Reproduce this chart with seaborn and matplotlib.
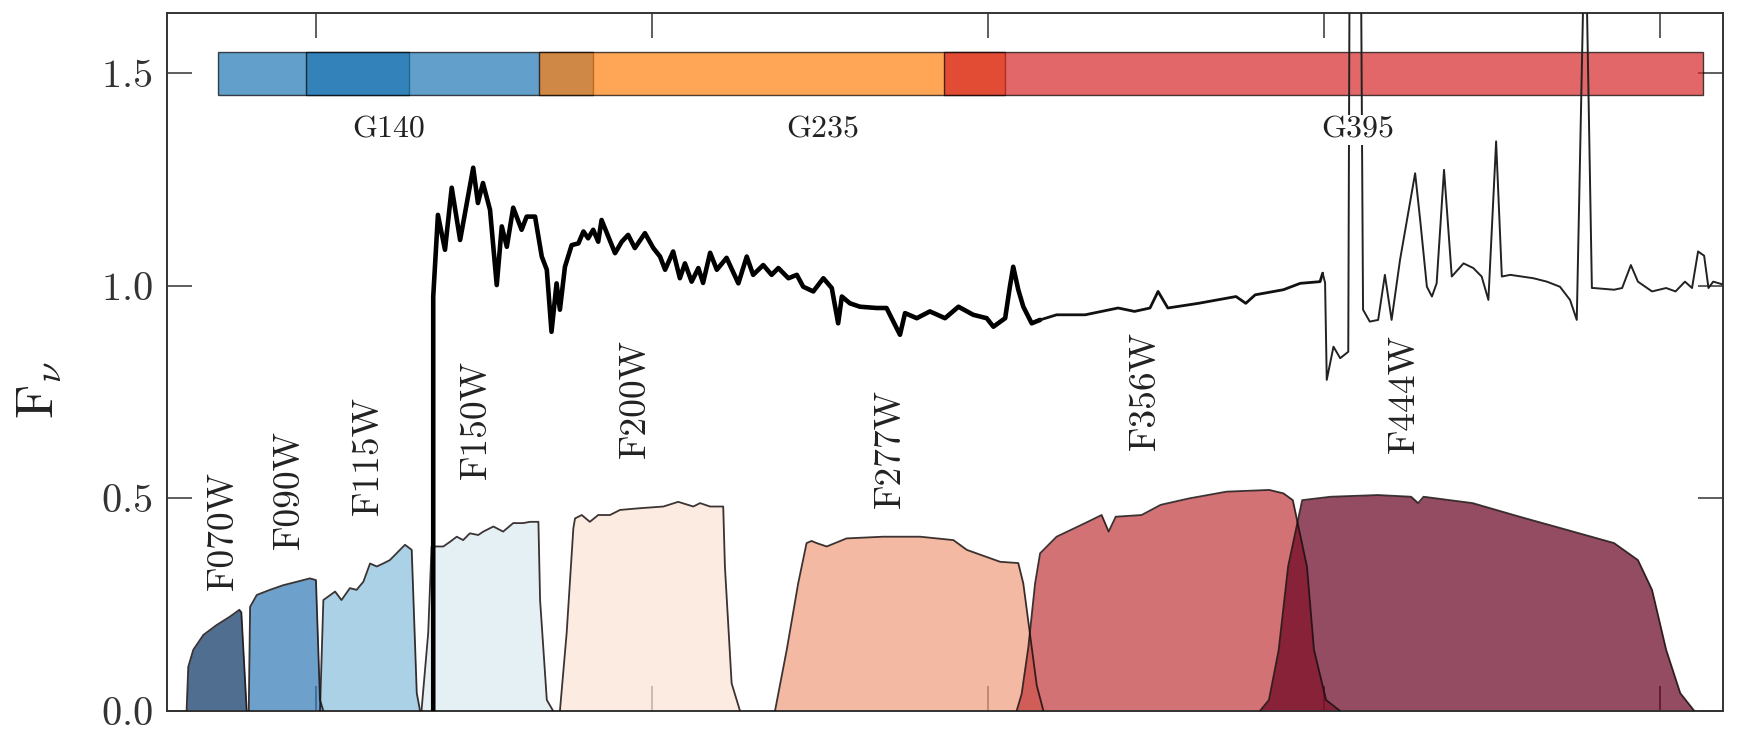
import numpy as np
import matplotlib
matplotlib.use("Agg")
import matplotlib.pyplot as plt
import seaborn as sns

# filter throughput curves (wavelength in micron)
filter_names = ["F070W", "F090W", "F115W", "F150W", "F200W", "F277W", "F356W", "F444W"]
f070w_wave = [0.615, 0.62, 0.635, 0.665, 0.704, 0.744, 0.772, 0.778, 0.794]
f070w_thru = [0.0, 0.104, 0.144, 0.179, 0.202, 0.222, 0.238, 0.232, 0.0]
f090w_wave = [0.8, 0.804, 0.824, 0.863, 0.903, 0.943, 0.982, 1.0, 1.012, 1.022]
f090w_thru = [0.0, 0.245, 0.273, 0.285, 0.296, 0.304, 0.312, 0.308, 0.026, 0.0]
f115w_wave = [1.012, 1.022, 1.057, 1.076, 1.101, 1.121, 1.141, 1.161, 1.181, 1.2,
              1.22, 1.245, 1.265, 1.285, 1.3, 1.31]
f115w_thru = [0.0, 0.261, 0.281, 0.261, 0.289, 0.285, 0.304, 0.347, 0.34, 0.347,
              0.355, 0.375, 0.391, 0.379, 0.042, 0.0]
f150w_wave = [1.314, 1.334, 1.344, 1.379, 1.399, 1.419, 1.438, 1.458, 1.483, 1.498,
              1.528, 1.557, 1.587, 1.617, 1.637, 1.662, 1.667, 1.687, 1.706]
f150w_thru = [0.0, 0.183, 0.387, 0.387, 0.398, 0.41, 0.402, 0.418, 0.414, 0.422,
              0.434, 0.422, 0.442, 0.442, 0.445, 0.445, 0.261, 0.026, 0.0]
f200w_wave = [1.726, 1.746, 1.766, 1.771, 1.791, 1.815, 1.84, 1.875, 1.905, 1.964,
              2.034, 2.078, 2.123, 2.143, 2.173, 2.212, 2.217, 2.237, 2.262]
f200w_thru = [0.0, 0.183, 0.43, 0.453, 0.461, 0.445, 0.461, 0.461, 0.473, 0.477,
              0.481, 0.492, 0.481, 0.489, 0.481, 0.481, 0.34, 0.065, 0.0]
f277w_wave = [2.366, 2.401, 2.435, 2.46, 2.475, 2.49, 2.52, 2.579, 2.688, 2.798,
              2.897, 2.937, 3.036, 3.09, 3.105, 3.125, 3.145, 3.165]
f277w_thru = [0.0, 0.144, 0.3, 0.395, 0.4, 0.395, 0.387, 0.406, 0.41, 0.41,
              0.402, 0.379, 0.351, 0.348, 0.3, 0.18, 0.06, 0.0]
f356w_wave = [3.085, 3.1, 3.12, 3.14, 3.155, 3.204, 3.289, 3.338, 3.359, 3.38,
              3.457, 3.514, 3.598, 3.71, 3.837, 3.879, 3.907, 3.949, 3.97, 4.006, 4.048]
f356w_thru = [0.0, 0.04, 0.15, 0.3, 0.371, 0.41, 0.442, 0.461, 0.422, 0.457,
              0.461, 0.485, 0.5, 0.516, 0.52, 0.512, 0.496, 0.34, 0.144, 0.026, 0.0]
f444w_wave = [3.809, 3.836, 3.865, 3.893, 3.935, 4.02, 4.16, 4.259, 4.28, 4.296,
              4.442, 4.582, 4.723, 4.863, 4.934, 4.976, 5.018, 5.06, 5.102]
f444w_thru = [0.0, 0.026, 0.144, 0.34, 0.496, 0.504, 0.508, 0.504, 0.489, 0.504,
              0.489, 0.457, 0.426, 0.395, 0.355, 0.285, 0.144, 0.042, 0.0]
label_wave = [0.724, 0.92, 1.156, 1.478, 1.949, 2.71, 3.467, 4.238]
label_y = [0.285, 0.38, 0.461, 0.545, 0.595, 0.477, 0.614, 0.606]

# NIRSpec grating coverage bars
grism_names = ["G140", "G235", "G395"]
grism_label_wave = [1.215, 2.508, 4.101]
bar_start = [0.709, 0.971, 1.663, 2.868]
bar_end = [1.276, 1.823, 3.05, 5.128]
bar_grism = [0, 0, 1, 2]

# spectrum
spec_wave = [1.349, 1.349, 1.363, 1.384, 1.404, 1.429, 1.449, 1.468, 1.482, 1.497,
             1.518, 1.538, 1.553, 1.568, 1.587, 1.612, 1.627, 1.652, 1.672, 1.687,
             1.701, 1.716, 1.726, 1.741, 1.761, 1.781, 1.796, 1.81, 1.825, 1.84,
             1.85, 1.87, 1.89, 1.91, 1.929, 1.949, 1.979, 2.004, 2.024, 2.039,
             2.063, 2.083, 2.098, 2.118, 2.138, 2.152, 2.173, 2.193, 2.222, 2.257,
             2.282, 2.301, 2.331, 2.356, 2.376, 2.406, 2.431, 2.45, 2.48, 2.51,
             2.535, 2.554, 2.565, 2.589, 2.619, 2.669, 2.698, 2.738, 2.753, 2.788,
             2.827, 2.872, 2.912, 2.956, 2.996, 3.016, 3.051, 3.065, 3.075, 3.09,
             3.105, 3.13, 3.155, 3.204, 3.289, 3.387, 3.436, 3.482, 3.506, 3.535,
             3.626, 3.738, 3.767, 3.795, 3.879, 3.929, 3.988, 3.996, 4.003, 4.008,
             4.028, 4.048, 4.072, 4.077, 4.092, 4.108, 4.116, 4.136, 4.161, 4.181,
             4.201, 4.226, 4.271, 4.286, 4.306, 4.321, 4.335, 4.357, 4.38, 4.415,
             4.444, 4.469, 4.489, 4.512, 4.529, 4.554, 4.623, 4.663, 4.702, 4.732,
             4.752, 4.777, 4.797, 4.802, 4.863, 4.887, 4.913, 4.934, 4.976, 5.018,
             5.046, 5.074, 5.095, 5.113, 5.131, 5.144, 5.158, 5.193]
spec_flux = [0.0, 0.975, 1.167, 1.085, 1.231, 1.108, 1.195, 1.278, 1.195, 1.242,
             1.179, 1.002, 1.14, 1.092, 1.184, 1.132, 1.163, 1.163, 1.069, 1.038,
             0.892, 1.006, 0.944, 1.045, 1.096, 1.1, 1.128, 1.112, 1.132, 1.104,
             1.155, 1.116, 1.077, 1.104, 1.12, 1.089, 1.124, 1.089, 1.069, 1.038,
             1.081, 1.018, 1.053, 1.01, 1.042, 1.007, 1.078, 1.038, 1.066, 1.006,
             1.069, 1.026, 1.049, 1.026, 1.042, 1.018, 1.026, 0.998, 0.987, 1.018,
             0.995, 0.912, 0.975, 0.959, 0.951, 0.948, 0.948, 0.885, 0.936, 0.924,
             0.94, 0.924, 0.951, 0.932, 0.924, 0.904, 0.924, 0.998, 1.045, 0.991,
             0.951, 0.912, 0.92, 0.932, 0.932, 0.948, 0.94, 0.948, 0.987, 0.948,
             0.959, 0.975, 0.959, 0.979, 0.991, 1.006, 1.01, 1.03, 1.007, 0.779,
             0.857, 0.83, 0.845, 2.0, 1.8, 2.0, 0.944, 0.916, 0.92, 1.026,
             0.92, 1.061, 1.265, 1.155, 0.998, 0.975, 1.006, 1.273, 1.022, 1.053,
             1.042, 1.022, 0.967, 1.34, 1.022, 1.026, 1.018, 1.01, 0.998, 0.967,
             0.92, 1.9, 0.995, 0.995, 0.991, 0.995, 1.049, 1.01, 0.987, 0.995,
             0.987, 1.01, 0.995, 1.081, 1.071, 0.995, 1.01, 1.002]

sns.set_style("ticks")
plt.rcParams["font.family"] = "serif"
plt.rcParams["font.serif"] = ["cmr10", "DejaVu Serif"]
plt.rcParams["mathtext.fontset"] = "cm"
plt.rcParams["axes.formatter.use_mathtext"] = True

fig = plt.figure(figsize=(17.37, 7.38), dpi=100)
ax = fig.add_axes([0.096, 0.0366, 0.8961, 0.9458])

filters = [(f070w_wave, f070w_thru), (f090w_wave, f090w_thru), (f115w_wave, f115w_thru),
           (f150w_wave, f150w_thru), (f200w_wave, f200w_thru), (f277w_wave, f277w_thru),
           (f356w_wave, f356w_thru), (f444w_wave, f444w_thru)]
fcols = plt.cm.RdBu_r(np.linspace(0, 1, len(filters)))
for i, (w, t) in enumerate(filters):
    ax.fill_between(w, t, color=fcols[i], alpha=0.7, lw=0, zorder=2)
    ax.plot(w, t, color="#1a1010", lw=1.3, alpha=0.85, zorder=3)
    ax.text(label_wave[i], label_y[i], filter_names[i], rotation=90, ha="center",
            va="bottom", fontsize=27, color="#222222", zorder=4)

gcols = sns.color_palette("tab10")
grism_colors = [gcols[0], gcols[1], gcols[3]]
for s, e, g in zip(bar_start, bar_end, bar_grism):
    ax.barh(1.5, e - s, left=s, height=0.1, color=grism_colors[g], alpha=0.7,
            edgecolor="k", lw=1.0, zorder=2)
for name, w in zip(grism_names, grism_label_wave):
    ax.text(w, 1.367, name, ha="center", va="center", fontsize=23, color="#222222",
            zorder=10, bbox=dict(facecolor="white", edgecolor="none", pad=1.0))

wave = np.array(spec_wave)
flux = np.array(spec_flux)
seg_thick = wave <= 3.16
seg_mid = (wave >= 3.155) & (wave <= 3.996)
seg_thin = wave >= 3.996
for mask, lw, col in [(seg_thick, 3.3, "black"), (seg_mid, 2.0, "#111111"),
                      (seg_thin, 1.4, "#222222")]:
    sns.lineplot(x=wave[mask], y=flux[mask], sort=False, estimator=None, ax=ax,
                 color=col, lw=lw, zorder=5)

ax.set_xlim(0.556, 5.188)
ax.set_ylim(0, 1.642)
ax.set_yticks([0.0, 0.5, 1.0, 1.5])
ax.set_xticks([1, 2, 3, 4, 5])
ax.tick_params(axis="both", which="both", direction="in", length=18, width=1.1,
               color="#333333", top=True, right=True, labelbottom=False,
               labelsize=29, labelcolor="#333333", pad=10)
for sp in ax.spines.values():
    sp.set_color("#333333")
    sp.set_linewidth(1.4)
ax.set_ylabel(r"F$_\nu$", fontsize=38, color="#222222")
ax.yaxis.set_label_coords(-0.066, 0.46)
ax.set_xlabel("")

fig.savefig("out.png", dpi=100)
